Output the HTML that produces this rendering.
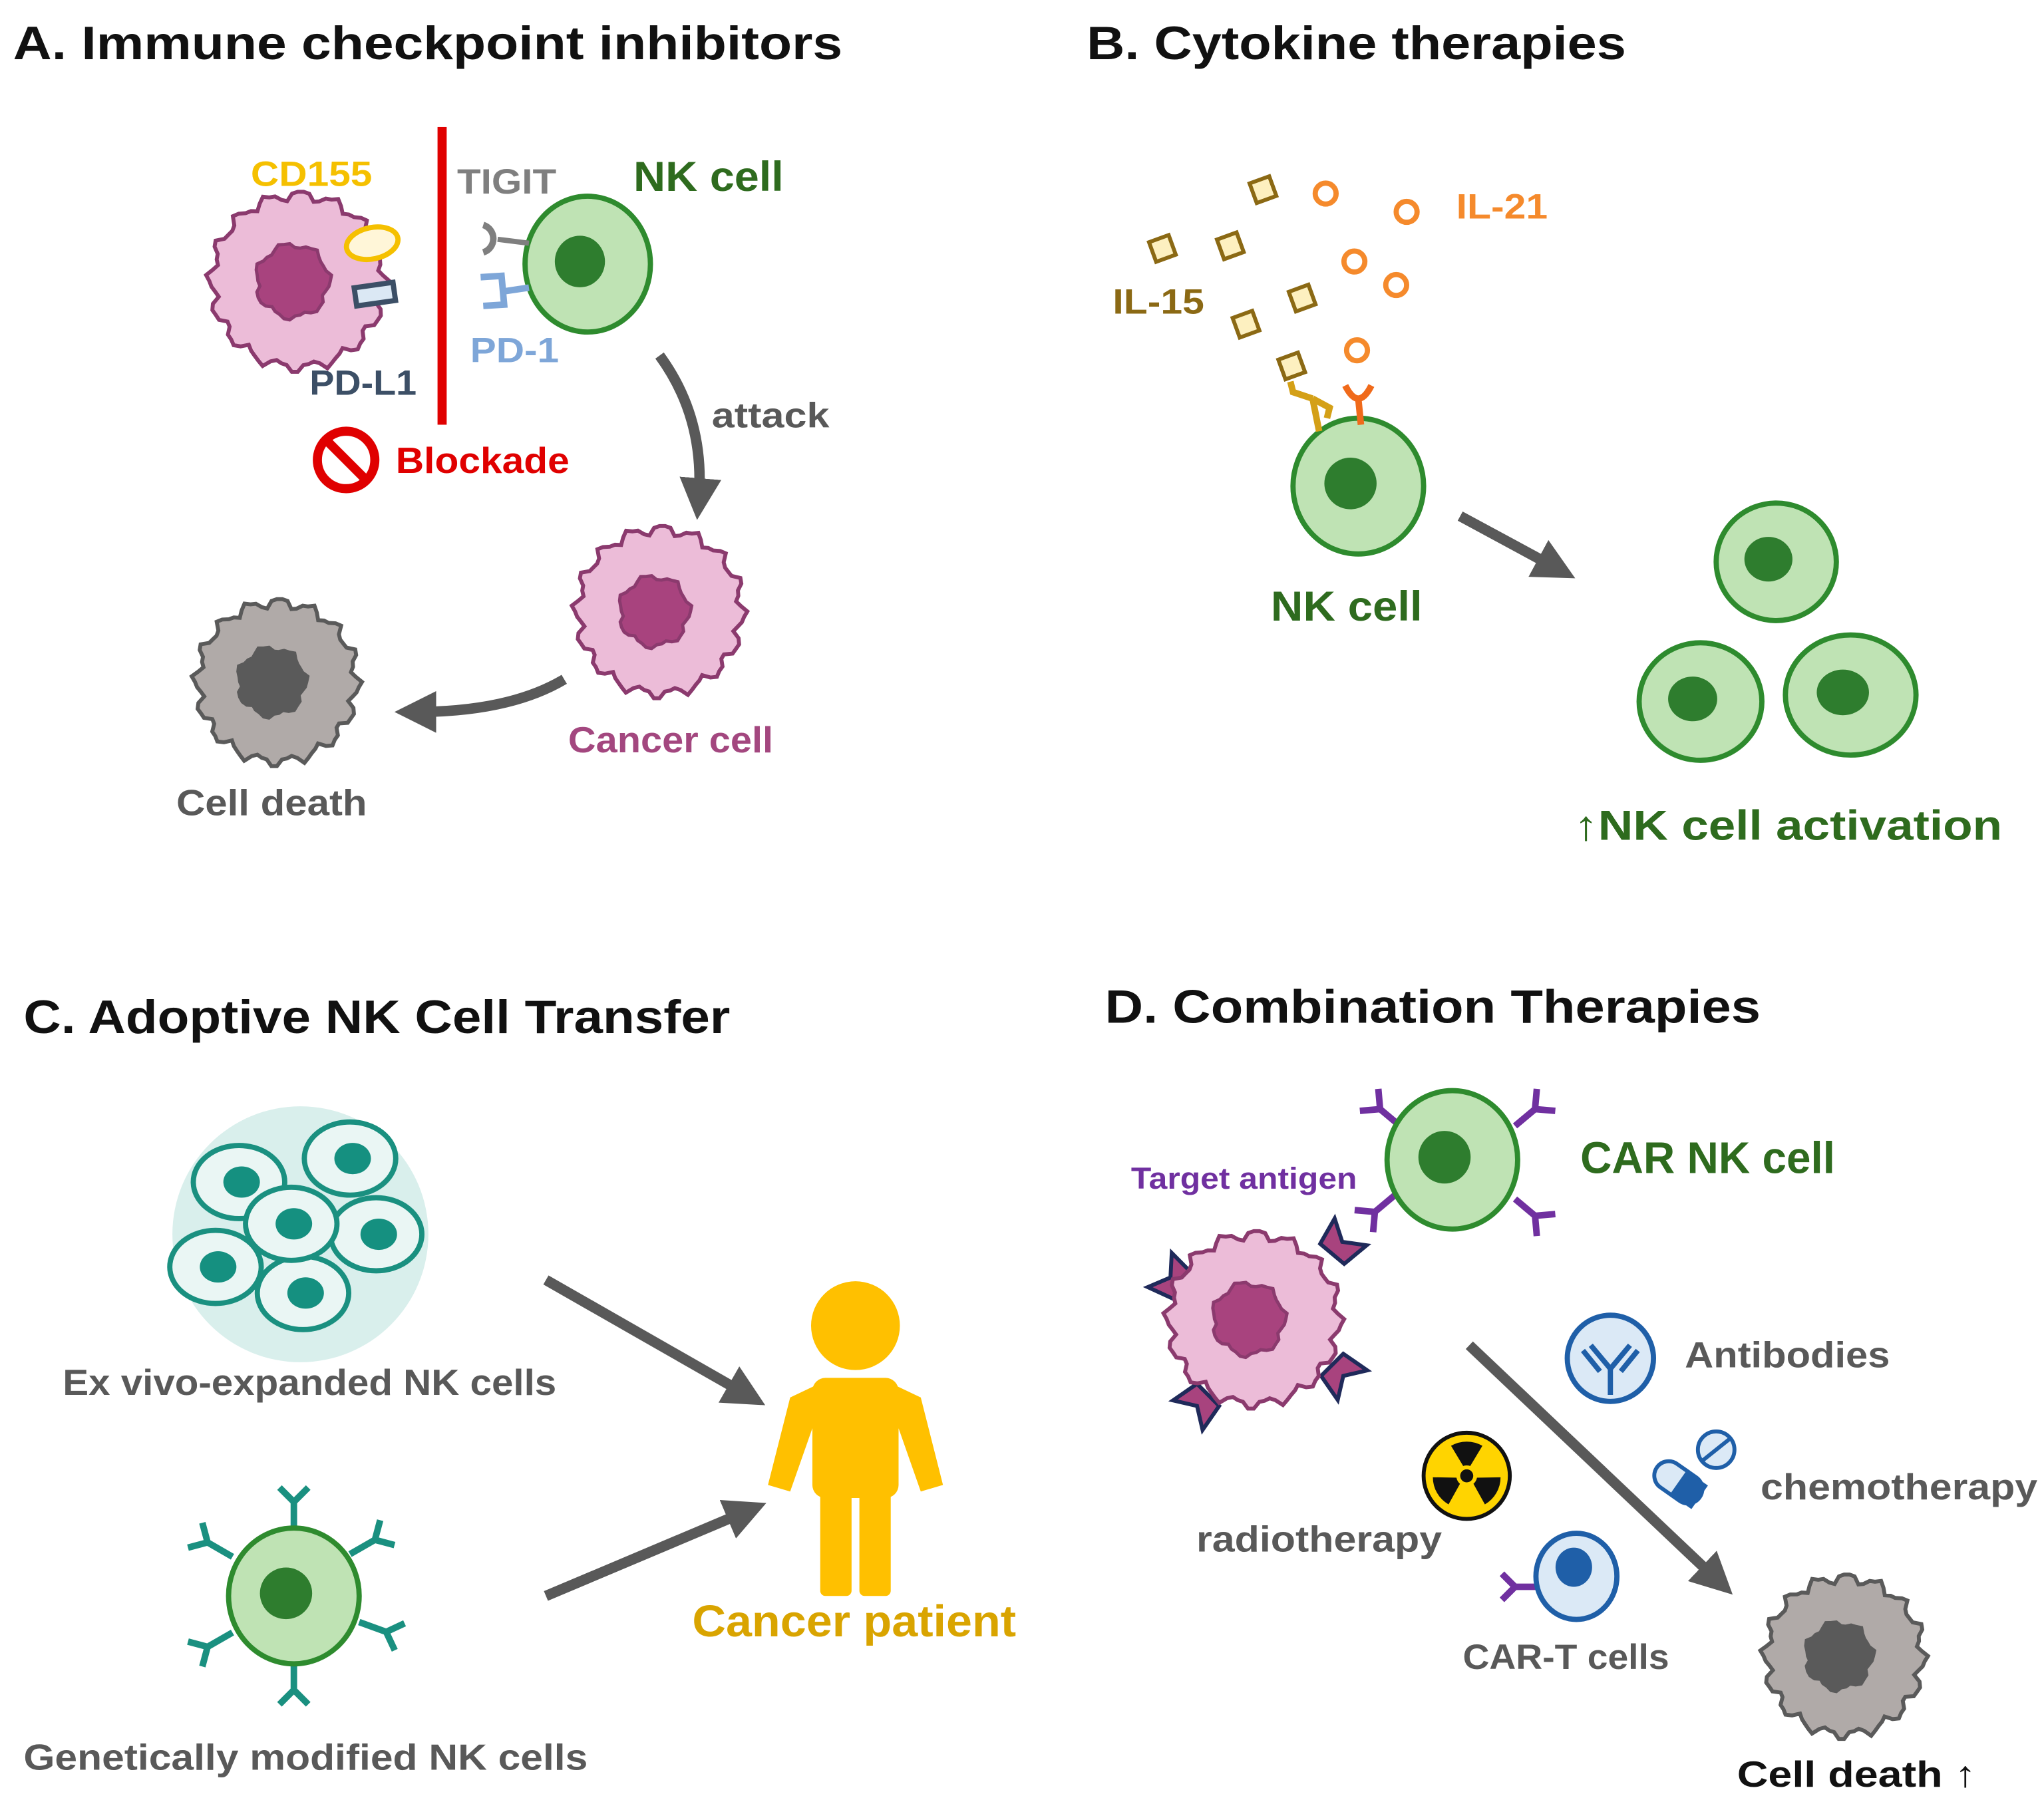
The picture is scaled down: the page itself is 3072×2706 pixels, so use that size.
<!DOCTYPE html>
<html><head><meta charset="utf-8"><style>
html,body{margin:0;padding:0;background:#fff;}
svg{display:block;}
text{font-family:"Liberation Sans",sans-serif;font-weight:bold;}
</style></head><body>
<svg id="s" xmlns="http://www.w3.org/2000/svg" width="3072" height="2706" viewBox="0 0 1565 1378">
<defs>
<marker id="ah" markerWidth="4" markerHeight="4" refX="2" refY="2" orient="auto" markerUnits="strokeWidth"><path d="M0,0 L4,2 L0,4 Z" fill="#595959"/></marker>
</defs>
<rect width="1565" height="1378" fill="#fff"/>

<!-- Titles -->
<text x="10" y="45" font-size="36" fill="#111" textLength="635" lengthAdjust="spacingAndGlyphs">A. Immune checkpoint inhibitors</text>
<text x="832" y="45" font-size="36" fill="#111" textLength="413" lengthAdjust="spacingAndGlyphs">B. Cytokine therapies</text>
<text x="18" y="791" font-size="36" fill="#111" textLength="541" lengthAdjust="spacingAndGlyphs">C. Adoptive NK Cell Transfer</text>
<text x="846" y="783" font-size="36" fill="#111" textLength="502" lengthAdjust="spacingAndGlyphs">D. Combination Therapies</text>

<g id="blobs"></g>

<!-- Panel A -->
<ellipse cx="285" cy="186" rx="20" ry="12" transform="rotate(-12 285 186)" fill="#fff6d8" stroke="#f5c000" stroke-width="4"/>
<rect x="272" y="218" width="30" height="14" transform="rotate(-8 287 225)" fill="#dbe8f4" stroke="#3c4f66" stroke-width="4"/>
<text x="192" y="142" font-size="27" fill="#f5c000" textLength="93" lengthAdjust="spacingAndGlyphs">CD155</text>
<text x="237" y="302" font-size="27" fill="#3c4f66" textLength="82" lengthAdjust="spacingAndGlyphs">PD-L1</text>
<rect x="335" y="97" width="7" height="228" fill="#e00000"/>
<text x="350" y="148" font-size="27" fill="#7f7f7f" textLength="76" lengthAdjust="spacingAndGlyphs">TIGIT</text>
<path d="M370,172 A11,11 0 0 1 370,193" fill="none" stroke="#7f7f7f" stroke-width="5"/>
<line x1="381" y1="183" x2="405" y2="186" stroke="#7f7f7f" stroke-width="4"/>
<path d="M368,212 L384,211 L386,233 L370,234 M385,223 L405,220" fill="none" stroke="#7ea6d8" stroke-width="5"/>
<text x="360" y="277" font-size="27" fill="#7ea6d8" textLength="68" lengthAdjust="spacingAndGlyphs">PD-1</text>
<text x="485" y="146" font-size="32" fill="#2e6b1e" textLength="115" lengthAdjust="spacingAndGlyphs">NK cell</text>
<path d="M505,272 Q540,320 535,382" fill="none" stroke="#595959" stroke-width="8" marker-end="url(#ah)"/>
<text x="545" y="327" font-size="27" fill="#595959" textLength="90" lengthAdjust="spacingAndGlyphs">attack</text>
<circle cx="265" cy="352" r="22" fill="none" stroke="#e00000" stroke-width="7"/>
<line x1="251" y1="338" x2="279" y2="366" stroke="#e00000" stroke-width="7"/>
<text x="303" y="362" font-size="28" fill="#e00000" textLength="133" lengthAdjust="spacingAndGlyphs">Blockade</text>
<text x="435" y="576" font-size="28" fill="#a3477f" textLength="157" lengthAdjust="spacingAndGlyphs">Cancer cell</text>
<path d="M432,520 Q390,545 318,545" fill="none" stroke="#595959" stroke-width="8" marker-end="url(#ah)"/>
<text x="135" y="624" font-size="28" fill="#595959" textLength="146" lengthAdjust="spacingAndGlyphs">Cell death</text>

<!-- Panel B -->
<g fill="#fdf0c0" stroke="#8b6914" stroke-width="3">
<rect x="959" y="137" width="16" height="16" transform="rotate(-20 967 145)"/>
<rect x="882" y="182" width="16" height="16" transform="rotate(-20 890 190)"/>
<rect x="934" y="180" width="16" height="16" transform="rotate(-20 942 188)"/>
<rect x="989" y="220" width="16" height="16" transform="rotate(-20 997 228)"/>
<rect x="946" y="240" width="16" height="16" transform="rotate(-20 954 248)"/>
<rect x="981" y="272" width="16" height="16" transform="rotate(-20 989 280)"/>
</g>
<g fill="#fff" stroke="#f58a2c" stroke-width="4">
<circle cx="1015" cy="148" r="8"/><circle cx="1077" cy="162" r="8"/><circle cx="1037" cy="200" r="8"/><circle cx="1069" cy="218" r="8"/><circle cx="1039" cy="268" r="8"/>
</g>
<text x="1115" y="167" font-size="27" fill="#f58a2c" textLength="70" lengthAdjust="spacingAndGlyphs">IL-21</text>
<text x="852" y="240" font-size="27" fill="#8b6914" textLength="70" lengthAdjust="spacingAndGlyphs">IL-15</text>
<path d="M1010,330 L1005,305 M1005,305 L990,300 L988,292 M1005,305 L1018,312 L1016,320" fill="none" stroke="#d4a017" stroke-width="5"/>
<path d="M1042,325 L1040,305 M1030,295 Q1040,315 1050,295" fill="none" stroke="#f06a1a" stroke-width="5"/>
<path d="M1118,395 L1192,435" stroke="#595959" stroke-width="8" marker-end="url(#ah)"/>
<text x="973" y="475" font-size="32" fill="#2e6b1e" textLength="116" lengthAdjust="spacingAndGlyphs">NK cell</text>
<text x="1205" y="643" font-size="32" fill="#2e6b1e" textLength="328" lengthAdjust="spacingAndGlyphs">↑NK cell activation</text>

<!-- Panel C -->
<circle cx="230" cy="945" r="98" fill="#d9efec"/>
<g id="teal"></g>
<text x="48" y="1068" font-size="28" fill="#595959" textLength="378" lengthAdjust="spacingAndGlyphs">Ex vivo-expanded NK cells</text>
<text x="18" y="1355" font-size="28" fill="#595959" textLength="432" lengthAdjust="spacingAndGlyphs">Genetically modified  NK cells</text>
<path d="M418,980 L572,1068" stroke="#595959" stroke-width="8" marker-end="url(#ah)"/>
<path d="M418,1222 L572,1157" stroke="#595959" stroke-width="8" marker-end="url(#ah)"/>
<g fill="#ffc000">
<circle cx="655" cy="1015" r="34"/>
<rect x="622" y="1055" width="66" height="92" rx="10"/>
<path d="M626,1060 L605,1070 L588,1137 L605,1142 L625,1085 Z"/>
<path d="M684,1060 L705,1070 L722,1137 L705,1142 L685,1085 Z"/>
<rect x="628" y="1140" width="24" height="82" rx="4"/>
<rect x="658" y="1140" width="24" height="82" rx="4"/>
</g>
<text x="530" y="1253" font-size="34" fill="#d9a400" textLength="248" lengthAdjust="spacingAndGlyphs">Cancer patient</text>

<!-- Panel D -->
<text x="1210" y="898" font-size="34" fill="#2e6b1e" textLength="195" lengthAdjust="spacingAndGlyphs">CAR NK cell</text>
<text x="866" y="910" font-size="23" fill="#7030a0" textLength="173" lengthAdjust="spacingAndGlyphs">Target antigen</text>
<path d="M1125,1030 L1315,1210" stroke="#595959" stroke-width="8" marker-end="url(#ah)"/>
<circle cx="1233" cy="1040" r="33" fill="#dbe9f6" stroke="#1f5fa8" stroke-width="4"/>
<path d="M1233,1068 L1233,1048 M1233,1048 L1218,1030 M1233,1048 L1248,1030 M1225,1050 L1212,1034 M1241,1050 L1254,1034" fill="none" stroke="#1f5fa8" stroke-width="4"/>
<text x="1290" y="1047" font-size="28" fill="#595959" textLength="157" lengthAdjust="spacingAndGlyphs">Antibodies</text>
<g transform="rotate(35 1285 1135)">
<rect x="1265" y="1124" width="40" height="22" rx="11" fill="#dbe9f6" stroke="#1f5fa8" stroke-width="3"/>
<rect x="1285" y="1124" width="20" height="22" rx="0" fill="#1f5fa8"/>
</g>
<circle cx="1314" cy="1110" r="14" fill="#dbe9f6" stroke="#1f5fa8" stroke-width="3"/>
<line x1="1304" y1="1118" x2="1324" y2="1102" stroke="#1f5fa8" stroke-width="3"/>
<text x="1348" y="1148" font-size="28" fill="#595959" textLength="212" lengthAdjust="spacingAndGlyphs">chemotherapy</text>
<circle cx="1123" cy="1130" r="33" fill="#ffd400" stroke="#111" stroke-width="3"/>
<circle cx="1123" cy="1130" r="5" fill="#111"/>
<g fill="#111">
<path d="M1123,1130 L1111,1110 A24,24 0 0 1 1135,1110 Z" transform="translate(0,-3)"/>
<path d="M1123,1130 L1111,1110 A24,24 0 0 1 1135,1110 Z" transform="rotate(120 1123 1130) translate(0,-3)"/>
<path d="M1123,1130 L1111,1110 A24,24 0 0 1 1135,1110 Z" transform="rotate(240 1123 1130) translate(0,-3)"/>
</g>
<circle cx="1123" cy="1130" r="8" fill="#ffd400"/><circle cx="1123" cy="1130" r="5" fill="#111"/>
<text x="916" y="1188" font-size="28" fill="#595959" textLength="188" lengthAdjust="spacingAndGlyphs">radiotherapy</text>
<path d="M1176,1215 L1160,1215 M1160,1215 L1150,1205 M1160,1215 L1150,1225" fill="none" stroke="#7030a0" stroke-width="5"/>
<ellipse cx="1207" cy="1207" rx="31" ry="33" fill="#dbe9f6" stroke="#1f5fa8" stroke-width="4"/>
<ellipse cx="1205" cy="1200" rx="14" ry="15" fill="#1f5fa8"/>
<text x="1120" y="1278" font-size="27" fill="#595959" textLength="158" lengthAdjust="spacingAndGlyphs">CAR-T cells</text>
<text x="1330" y="1368" font-size="28" fill="#111" textLength="183" lengthAdjust="spacingAndGlyphs">Cell death ↑</text>
</svg>
<script>
(function(){
var NS="http://www.w3.org/2000/svg";
var svg=document.getElementById('s');
var g=document.getElementById('blobs');
function el(t,a,p){var e=document.createElementNS(NS,t);for(var k in a)e.setAttribute(k,a[k]);(p||g).appendChild(e);return e;}
function blob(cx,cy,r,amp,n,seed){var d="";var s=seed;for(var i=0;i<=n*6;i++){var a=i/(n*6)*Math.PI*2;var w=Math.sin(a*n+s)*amp+Math.sin(a*(n*2+3)+s*2)*amp*0.4;var rr=r+w;d+=(i?"L":"M")+(cx+rr*Math.cos(a)).toFixed(1)+","+(cy+rr*Math.sin(a)).toFixed(1);}return d+"Z";}
function cancer(cx,cy,r,fill,stroke,nfill){el('path',{d:blob(cx,cy,r,3.5,16,1),fill:fill,stroke:stroke,'stroke-width':3});el('path',{d:blob(cx-4,cy,r*0.42,2,7,2),fill:nfill,stroke:stroke,'stroke-width':2.5});}
function nk(cx,cy,rx,ry){el('ellipse',{cx:cx,cy:cy,rx:rx,ry:ry,fill:'#bfe3b4',stroke:'#2e8b2e','stroke-width':4});el('ellipse',{cx:cx-6,cy:cy-2,rx:rx*0.4,ry:ry*0.38,fill:'#2e7d2e'});}
function Y(x,y,ang,col,len){var gg=el('g',{transform:'translate('+x+','+y+') rotate('+ang+')',fill:'none',stroke:col,'stroke-width':5});el('path',{d:'M0,0 L0,-'+len+' M0,-'+len+' L-11,-'+(len+11)+' M0,-'+len+' L11,-'+(len+11)},gg);}
// Panel A
cancer(228,215,66,'#ecbcd8','#8b3a6e','#a8437e');
nk(450,202,48,52);
cancer(505,468,63,'#ecbcd8','#8b3a6e','#a8437e');
cancer(212,522,61,'#b0aaa8','#5a5a5a','#5a5a5a');
// Panel B
nk(1040,372,50,52);
nk(1360,430,46,45);nk(1302,537,47,45);nk(1417,532,50,46);
// Panel C
var t=document.getElementById('teal');
[[183,905],[268,887],[165,970],[288,945],[232,990],[223,937]].forEach(function(p){el('ellipse',{cx:p[0],cy:p[1],rx:35,ry:28,fill:'#eaf6f4',stroke:'#1a9080','stroke-width':4},t);el('ellipse',{cx:p[0]+2,cy:p[1],rx:14,ry:12,fill:'#159080'},t);});
[[225,1172,0],[268,1190,60],[275,1242,110],[225,1272,180],[178,1250,240],[178,1192,300]].forEach(function(p){Y(p[0],p[1],p[2],'#1a9080',22);});
nk(225,1222,50,52);
// Panel D
[[1072,862,-50],[1160,862,50],[1160,918,130],[1068,915,-130]].forEach(function(p){Y(p[0],p[1],p[2],'#7030a0',20);});
nk(1112,888,50,53);
[[906,985,-55],[1020,960,40],[925,1068,-135],[1020,1045,135]].forEach(function(p){var gg=el('g',{transform:'translate('+p[0]+','+p[1]+') rotate('+p[2]+')'});el('path',{d:'M-12,0 L12,0 L16,-22 L0,-12 L-16,-22 Z',fill:'#a8437e',stroke:'#1f2a5a','stroke-width':3},gg);});
cancer(960,1010,65,'#ecbcd8','#8b3a6e','#a8437e');
cancer(1412,1268,60,'#b0aaa8','#5a5a5a','#5a5a5a');
})();
</script>
</body></html>
